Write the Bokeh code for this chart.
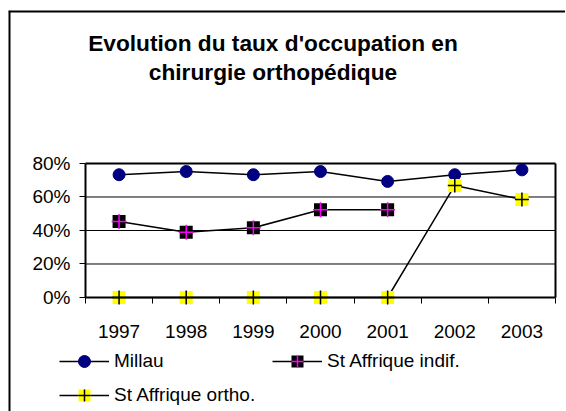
import math
from bokeh.plotting import figure
from bokeh.models import (FixedTicker, NumeralTickFormatter, Label,
                          Legend, LegendItem, Range1d)
from bokeh.embed import file_html
from bokeh.resources import INLINE

years = ["1997", "1998", "1999", "2000", "2001", "2002", "2003"]
millau = [0.733, 0.752, 0.733, 0.752, 0.693, 0.733, 0.762]
indif = [0.454, 0.390, 0.416, 0.524, 0.524, math.nan, math.nan]
ortho = [0.0, 0.0, 0.0, 0.0, 0.0, 0.669, 0.585]
y_ticks = [0.0, 0.2, 0.4, 0.6, 0.8]
title_lines = ["Evolution du taux d'occupation en", "chirurgie orthopédique"]

FONT = "Liberation Sans"
x = list(range(1, len(years) + 1))
x_lo, x_hi = 0.5, len(years) + 0.5
y_lo, y_hi = y_ticks[0], y_ticks[-1]
X_START, X_END = -0.6468, 7.649
Y_START, Y_END = -0.6806, 1.7134

p = figure(width=557, height=401, output_backend="svg", toolbar_location=None,
           x_range=Range1d(X_START, X_END), y_range=Range1d(Y_START, Y_END),
           min_border=0)
p.title.visible = False
p.styles = {"transform": "translate(8px, 10px)"}
p.outline_line_color = None
p.background_fill_color = "white"
p.border_fill_color = "white"

# outer chart-area frame (left and top edges; the rest is cut off)
p.segment(x0=[X_START, X_START], y0=[Y_START, Y_END], x1=[X_START, X_END], y1=[Y_END, Y_END],
          line_color="black", line_width=4)

# x axis (drawn at 0, ticks between categories)
xa = p.xaxis[0]
xa.fixed_location = 0
xa.bounds = (x_lo, x_hi)
xa.ticker = FixedTicker(ticks=x, minor_ticks=[i + 0.5 for i in range(len(years) + 1)])
xa.major_label_overrides = {xi: yr for xi, yr in zip(x, years)}
xa.major_tick_out = 0
xa.major_tick_in = 0
xa.minor_tick_out = 6
xa.minor_tick_in = 0
xa.minor_tick_line_color = "black"
xa.axis_line_width = 2
xa.axis_line_color = "black"
xa.major_label_standoff = 22
xa.major_label_text_font = FONT
xa.major_label_text_font_size = "19px"
xa.major_label_text_color = "black"

ya = p.yaxis[0]
ya.fixed_location = x_lo
ya.ticker = FixedTicker(ticks=y_ticks, minor_ticks=[])
ya.formatter = NumeralTickFormatter(format="0%")
ya.bounds = (y_lo, y_hi)
ya.major_tick_out = 6
ya.major_tick_in = 0
ya.minor_tick_out = 0
ya.axis_line_width = 2
ya.axis_line_color = "black"
ya.major_tick_line_color = "black"
ya.major_label_standoff = 9
ya.major_label_text_font = FONT
ya.major_label_text_font_size = "19px"
ya.major_label_text_color = "black"

p.xgrid.visible = False
p.ygrid.visible = False

# horizontal gridlines limited to the plot area
inner = y_ticks[1:-1]
p.segment(x0=[x_lo] * len(inner), y0=inner, x1=[x_hi] * len(inner), y1=inner,
          line_color="black", line_width=1)

# plot area border (top and right)
p.segment(x0=[x_lo, x_hi], y0=[y_hi, y_lo], x1=[x_hi, x_hi], y1=[y_hi, y_hi],
          line_color="black", line_width=2)

# series
r1l = p.line(x, millau, line_color="black", line_width=1.5)
r1m = p.scatter(x, millau, marker="circle", size=12, fill_color="#000080", line_color="#000080")

r2l = p.line(x, indif, line_color="black", line_width=1.5)
r2s = p.scatter(x, indif, marker="square", size=13, fill_color="black", line_color=None)
r2c = p.scatter(x, indif, marker="cross", size=15, line_color="#FF00FF", line_width=1.5)

r3l = p.line(x, ortho, line_color="black", line_width=1.5)
r3s = p.scatter(x, ortho, marker="square", size=13, fill_color="#FFFF00", line_color=None)
r3c = p.scatter(x, ortho, marker="cross", size=14, line_color="black", line_width=1.5)

legend = Legend(items=[
    LegendItem(label="Millau", renderers=[r1l, r1m]),
    LegendItem(label="St Affrique indif.", renderers=[r2l, r2s, r2c]),
    LegendItem(label="St Affrique ortho.", renderers=[r3l, r3s, r3c]),
], location=(51, 1), orientation="horizontal", ncols=2,
    glyph_width=50, glyph_height=30, label_width=154, label_height=30,
    spacing=4, label_standoff=5, padding=0, margin=0,
    border_line_color=None, background_fill_alpha=0,
    label_text_font=FONT, label_text_font_size="19px", label_text_color="black")
p.add_layout(legend)

# title
for txt, ty in zip(title_lines, [368.3, 340]):
    p.add_layout(Label(x=264.5, y=ty, x_units="screen", y_units="screen", text=txt,
                       text_align="center", text_baseline="alphabetic", text_font=FONT,
                       text_font_style="bold", text_font_size="22.7px", text_color="black"))

open("out.html", "w").write(file_html(p, INLINE))
